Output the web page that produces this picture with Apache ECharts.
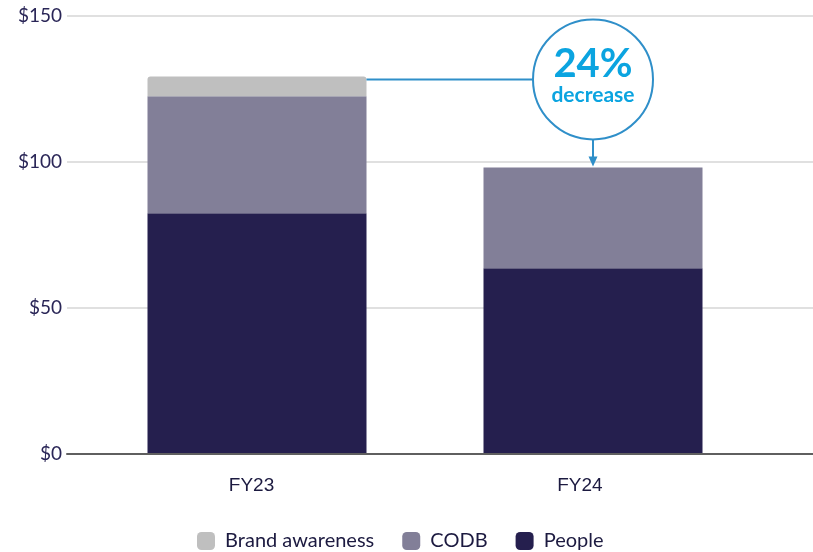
<!DOCTYPE html>
<html>
<head>
<meta charset="utf-8">
<script src="https://cdn.jsdelivr.net/npm/echarts@6/dist/echarts.min.js"></script>
<style>html,body{margin:0;padding:0;background:#fff}#c{width:813px;height:552px}</style>
</head>
<body>
<div id="c"></div>
<script>
const categories = ['FY23', 'FY24'];
const people = [82.4, 63.5];
const codb = [40.1, 34.6];
const brand = [6.8, null];
const yMin = 0, yMax = 150, yStep = 50;
const legendNames = ['Brand awareness', 'CODB', 'People'];
const calloutPct = '24%';
const calloutWord = 'decrease';

const FONT = 'Lato, "Noto Sans", sans-serif';
const XFONT = '"Liberation Sans", Arial, sans-serif';
const chart = echarts.init(document.getElementById('c'));
const gridTop = 16, gridBottom = 98.5;
const barW = 219;

chart.setOption({
  animation: false,
  textStyle: { fontFamily: FONT },
  legend: {
    data: legendNames,
    top: 526,
    left: 192,
    itemWidth: 18,
    itemHeight: 18,
    itemGap: 28,
    icon: 'roundRect',
    formatter: function (n) { return ' ' + n; },
    textStyle: { fontSize: 20, color: '#1c1a40', fontFamily: FONT }
  },
  grid: [
    { left: 67, right: 0, top: gridTop, bottom: gridBottom },
    { left: 89, right: 52, top: gridTop, bottom: gridBottom },
    { left: 87.4, right: 69, top: gridTop, bottom: gridBottom }
  ],
  xAxis: [
    { gridIndex: 0, type: 'category', data: [''], z: 5,
      axisLine: { lineStyle: { color: '#5f5f5f', width: 2 } },
      axisTick: { show: false }, axisLabel: { show: false }, splitLine: { show: false } },
    { gridIndex: 1, type: 'category', data: categories,
      axisLine: { show: false }, axisTick: { show: false }, axisLabel: { show: false } },
    { gridIndex: 2, type: 'category', data: categories,
      axisLine: { show: false }, axisTick: { show: false },
      axisLabel: { margin: 23, fontSize: 19, color: '#1c1a40', fontFamily: XFONT } }
  ],
  yAxis: [
    { gridIndex: 0, type: 'value', min: yMin, max: yMax, interval: yStep,
      axisLine: { show: false }, axisTick: { show: false },
      axisLabel: { formatter: '${value}', fontSize: 19, color: '#2a2657', margin: 5, fontFamily: FONT },
      splitLine: { lineStyle: { color: '#d6d6d6', width: 1.5 } } },
    { gridIndex: 1, type: 'value', min: yMin, max: yMax, interval: yStep, show: false,
      splitLine: { show: false } },
    { gridIndex: 2, type: 'value', min: yMin, max: yMax, interval: yStep, show: false,
      splitLine: { show: false } }
  ],
  series: [
    { name: 'People', type: 'bar', stack: 't', xAxisIndex: 1, yAxisIndex: 1, barWidth: barW,
      data: people, itemStyle: { color: '#251f4e' } },
    { name: 'CODB', type: 'bar', stack: 't', xAxisIndex: 1, yAxisIndex: 1, barWidth: barW,
      data: codb, itemStyle: { color: '#827f98' } },
    { name: 'Brand awareness', type: 'bar', stack: 't', xAxisIndex: 1, yAxisIndex: 1, barWidth: barW,
      data: brand, itemStyle: { color: '#bfbfbf', borderRadius: [3, 3, 0, 0] } }
  ]
});

const total23 = people[0] + codb[0] + (brand[0] || 0);
const total24 = people[1] + codb[1] + (brand[1] || 0);
const p23 = chart.convertToPixel({ gridIndex: 1 }, [0, total23]);
const p24 = chart.convertToPixel({ gridIndex: 1 }, [1, total24]);
const r = 60;
const cx = p24[0];
const cy = p23[1] + 3;
const blue = '#2f8fc9';
const textBlue = '#0ba4e0';

chart.setOption({
  graphic: [
    { type: 'line', z: 10, shape: { x1: p23[0] + barW / 2, y1: cy, x2: cx - r, y2: cy },
      style: { stroke: blue, lineWidth: 2 } },
    { type: 'circle', z: 10, shape: { cx: cx, cy: cy, r: r },
      style: { fill: '#fff', stroke: blue, lineWidth: 2 } },
    { type: 'line', z: 10, shape: { x1: cx, y1: cy + r, x2: cx, y2: p24[1] - 8 },
      style: { stroke: blue, lineWidth: 2 } },
    { type: 'polygon', z: 10, shape: { points: [[cx - 4.5, p24[1] - 11], [cx + 4.5, p24[1] - 11], [cx, p24[1] - 1]] },
      style: { fill: blue } },
    { type: 'text', z: 11, x: cx, y: cy - 15,
      style: { text: calloutPct, fill: textBlue, font: 'bold 40px ' + FONT, align: 'center', verticalAlign: 'middle' } },
    { type: 'text', z: 11, x: cx, y: cy + 16,
      style: { text: calloutWord, fill: textBlue, font: 'bold 21px ' + FONT, align: 'center', verticalAlign: 'middle' } }
  ]
});
</script>
</body>
</html>
